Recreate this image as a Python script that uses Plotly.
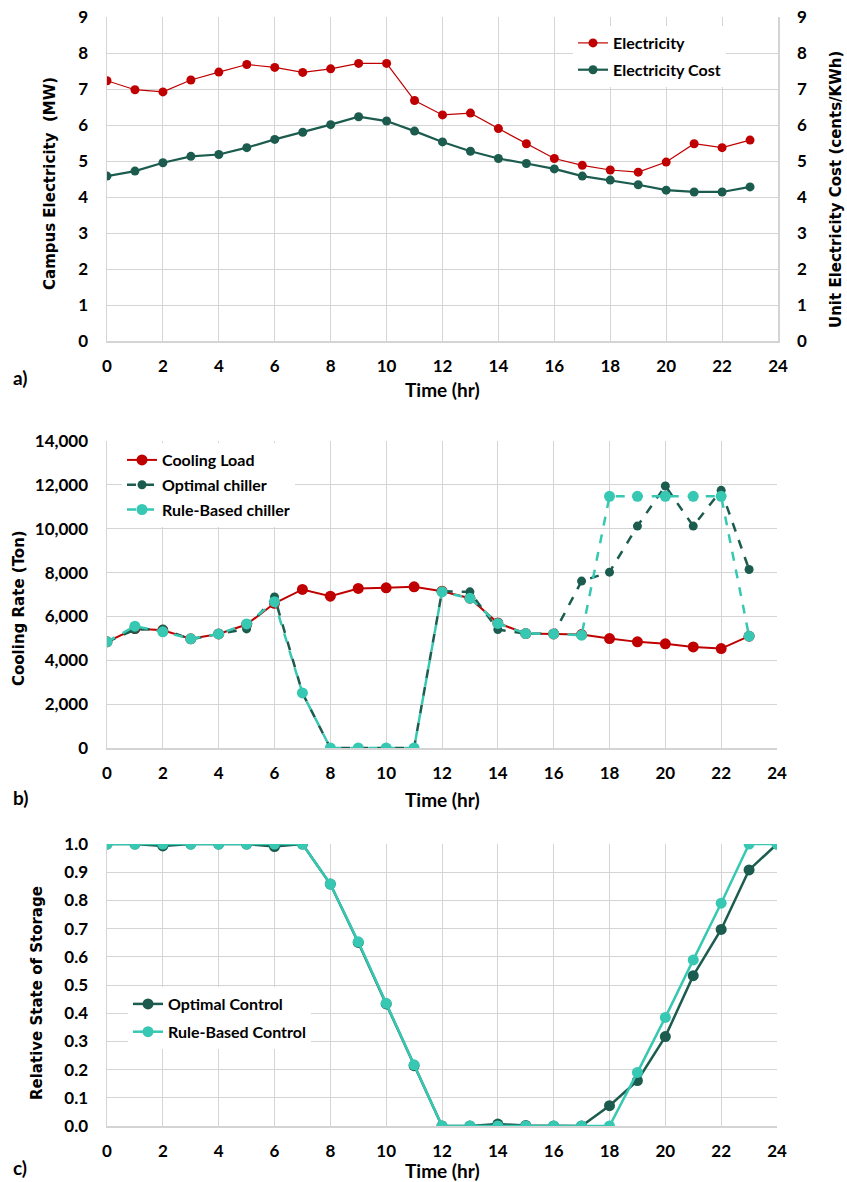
import plotly.graph_objects as go

hours23 = list(range(24))
hours24 = list(range(25))

# Panel a
electricity = [7.23, 6.98, 6.92, 7.25, 7.47, 7.68, 7.60, 7.46, 7.56, 7.71, 7.71, 6.68,
               6.28, 6.33, 5.90, 5.48, 5.07, 4.88, 4.75, 4.69, 4.97, 5.48, 5.37, 5.58]
elec_cost = [4.58, 4.72, 4.95, 5.13, 5.18, 5.37, 5.60, 5.80, 6.01, 6.23, 6.11, 5.83,
             5.53, 5.27, 5.07, 4.93, 4.78, 4.58, 4.47, 4.34, 4.19, 4.14, 4.14, 4.28]

# Panel b
cooling_load = [4840, 5450, 5370, 4980, 5200, 5630, 6600, 7230, 6925, 7275, 7305, 7350,
                7150, 6830, 5700, 5220, 5200, 5175, 4990, 4840, 4750, 4610, 4535, 5100]
optimal_chiller = [4840, 5400, 5430, 4950, 5200, 5430, 6890, 2510, 0, 0, 0, 0,
                   7150, 7120, 5400, 5220, 5200, 7610, 8020, 10120, 11950, 10120, 11750, 8140]
rule_chiller = [4840, 5555, 5300, 4980, 5200, 5660, 6670, 2510, 0, 0, 0, 0,
                7120, 6830, 5680, 5220, 5200, 5145, 11475, 11475, 11475, 11475, 11475, 5100]

# Panel c
optimal_storage = [1.0, 1.0, 0.993, 1.0, 1.0, 1.0, 0.991, 1.0, 0.858, 0.651, 0.433, 0.214,
                   0.0, 0.0, 0.007, 0.002, 0.0, 0.0, 0.072, 0.161, 0.317, 0.533, 0.697, 0.908, 1.0]
rule_storage = [1.0, 1.0, 1.0, 1.0, 1.0, 1.0, 1.0, 1.0, 0.858, 0.653, 0.435, 0.217,
                0.0, 0.0, 0.0, 0.0, 0.0, 0.0, 0.0, 0.190, 0.385, 0.589, 0.790, 1.0, 1.0]

RED = "#c00000"
DKGREEN = "#1b5c4f"
CYAN = "#36c8b2"
GRID = "#d4d4d4"
TICKFONT = dict(family="Lato, sans-serif", size=17, color="#000000", weight="bold")
LEGFONT = dict(family="Lato, sans-serif", size=16, color="#000000", weight="bold")

W, H = 847, 1182

def px(x):
    return x / W

def py(y):
    return 1 - y / H

fig = go.Figure()

# Panel a traces
fig.add_trace(go.Scatter(x=hours23, y=electricity, name="Electricity", mode="lines+markers",
                         line=dict(color=RED, width=1.2), marker=dict(color=RED, size=9),
                         xaxis="x", yaxis="y", legend="legend", legendgroup="a1"))
fig.add_trace(go.Scatter(x=hours23, y=elec_cost, name="Electricity Cost", mode="lines+markers",
                         line=dict(color=DKGREEN, width=2.2), marker=dict(color=DKGREEN, size=9),
                         xaxis="x", yaxis="y2", legend="legend", legendgroup="a2"))

# Panel b traces
fig.add_trace(go.Scatter(x=hours23, y=cooling_load, name="Cooling Load", mode="lines+markers",
                         line=dict(color=RED, width=2), marker=dict(color=RED, size=11),
                         xaxis="x2", yaxis="y3", legend="legend2", legendgroup="b1"))
fig.add_trace(go.Scatter(x=hours23, y=optimal_chiller, name="Optimal chiller", mode="lines+markers",
                         line=dict(color=DKGREEN, width=2.5, dash="dash"), marker=dict(color=DKGREEN, size=9),
                         xaxis="x2", yaxis="y3", legend="legend2", legendgroup="b2"))
fig.add_trace(go.Scatter(x=hours23, y=rule_chiller, name="Rule-Based chiller", mode="lines+markers",
                         line=dict(color=CYAN, width=2.5, dash="dash"), marker=dict(color=CYAN, size=11),
                         xaxis="x2", yaxis="y3", legend="legend2", legendgroup="b3"))

# Panel c traces
fig.add_trace(go.Scatter(x=hours24, y=optimal_storage, name="Optimal Control", mode="lines+markers",
                         line=dict(color=DKGREEN, width=2.5), marker=dict(color=DKGREEN, size=11),
                         xaxis="x3", yaxis="y4", legend="legend3", legendgroup="c1"))
fig.add_trace(go.Scatter(x=hours24, y=rule_storage, name="Rule-Based Control", mode="lines+markers",
                         line=dict(color=CYAN, width=2.5), marker=dict(color=CYAN, size=11),
                         xaxis="x3", yaxis="y4", legend="legend3", legendgroup="c2"))

xcommon = dict(range=[0, 24], dtick=2, tick0=0, showgrid=True, gridcolor=GRID, gridwidth=1,
               showline=True, linecolor=GRID, linewidth=1.5, mirror=False, zeroline=False,
               ticks="", tickfont=TICKFONT, ticklabelstandoff=9, fixedrange=True,
               automargin=False)
ycommon = dict(showgrid=True, gridcolor=GRID, gridwidth=1, showline=True, linecolor=GRID,
               linewidth=1.5, zeroline=False, ticks="", tickfont=TICKFONT,
               ticklabelstandoff=14, fixedrange=True, automargin=False)

fig.update_layout(
    width=W, height=H,
    margin=dict(l=0, r=0, t=0, b=0, autoexpand=False),
    paper_bgcolor="white", plot_bgcolor="white",
    xaxis=dict(**xcommon, domain=[px(107), px(778)], anchor="y"),
    yaxis=dict(**ycommon, domain=[py(341), py(17)], range=[0, 9], dtick=1, anchor="x"),
    yaxis2=dict(**ycommon, range=[0, 9], dtick=1, overlaying="y", side="right", anchor="x"),
    xaxis2=dict(**xcommon, domain=[px(107), px(777)], anchor="y3"),
    yaxis3=dict(**ycommon, domain=[py(748), py(441)], range=[0, 14000], dtick=2000,
                tickformat=",", anchor="x2"),
    xaxis3=dict(**xcommon, domain=[px(107), px(777)], anchor="y4"),
    yaxis4=dict(**ycommon, domain=[py(1126), py(844)], range=[0, 1.0], dtick=0.1,
                tickformat=".1f", anchor="x3"),
    legend=dict(x=px(573), y=py(26), xanchor="left", yanchor="top", bgcolor="white",
                font=LEGFONT, tracegroupgap=3, itemwidth=30),
    legend2=dict(x=px(122), y=py(443), xanchor="left", yanchor="top", bgcolor="white",
                 font=LEGFONT, tracegroupgap=1, itemwidth=30),
    legend3=dict(x=px(128), y=py(987), xanchor="left", yanchor="top", bgcolor="white",
                 font=LEGFONT, tracegroupgap=4, itemwidth=30),
    showlegend=True,
)

TITLEFONT = dict(family="Lato, sans-serif", size=19, color="#000000", weight="bold")
YTITLEFONT = dict(family="DejaVu Sans", size=15, color="#000000", weight="bold")

annotations = [
    dict(text="Time (hr)", x=px(442), y=py(389), font=TITLEFONT),
    dict(text="Time (hr)", x=px(442), y=py(799), font=TITLEFONT),
    dict(text="Time (hr)", x=px(442), y=py(1170), font=TITLEFONT),
    dict(text="a)", x=px(20), y=py(378), font=TITLEFONT),
    dict(text="b)", x=px(20), y=py(797), font=TITLEFONT),
    dict(text="c)", x=px(20), y=py(1167), font=TITLEFONT),
    dict(text="Campus Electricity  (MW)", x=px(50), y=py(184), textangle=-90, font=YTITLEFONT),
    dict(text="Unit Electricity Cost (cents/KWh)", x=px(836), y=py(190), textangle=-90, font=YTITLEFONT),
    dict(text="Cooling Rate (Ton)", x=px(19), y=py(608), textangle=-90, font=YTITLEFONT),
    dict(text="Relative State of Storage", x=px(37), y=py(993), textangle=-90, font=YTITLEFONT),
]
for a in annotations:
    a.update(xref="paper", yref="paper", showarrow=False, xanchor="center", yanchor="middle")
fig.update_layout(annotations=annotations)

fig.write_html("out.html",
               config={"displayModeBar": False, "staticPlot": True},
               post_script="document.body.style.margin='0px';document.body.style.overflow='hidden';")
